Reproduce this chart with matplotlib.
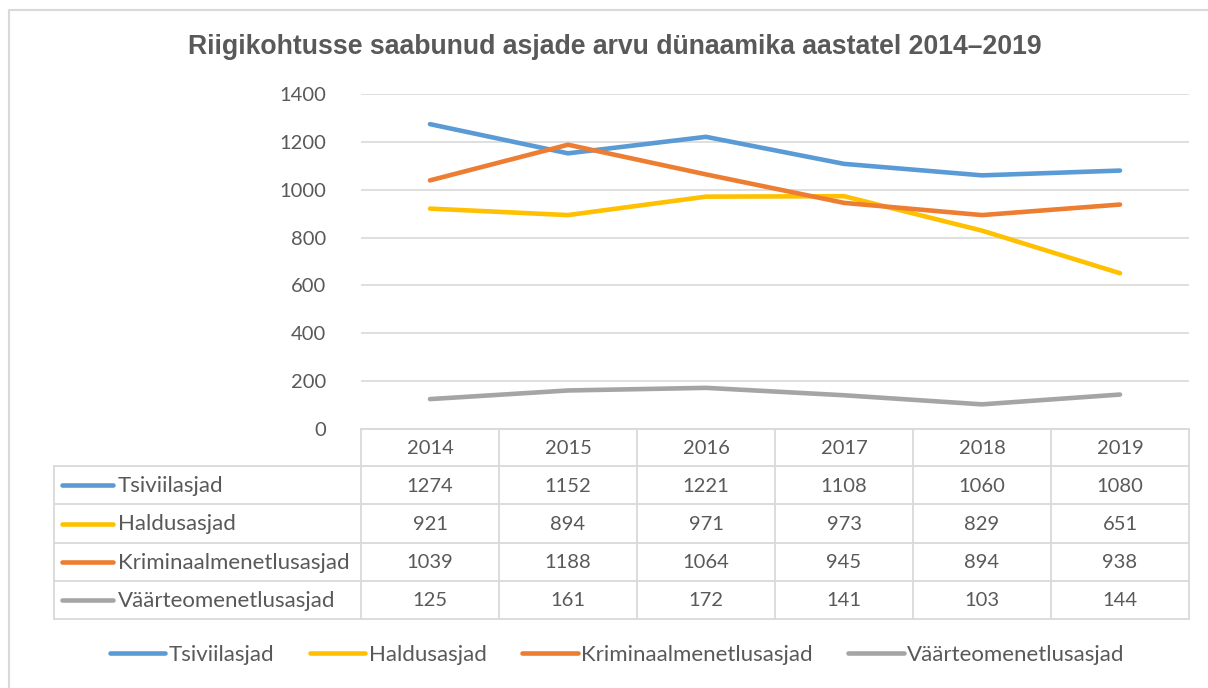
import matplotlib.pyplot as plt
from matplotlib.lines import Line2D

plt.rcParams['font.family'] = ['Lato', 'DejaVu Sans']

# andmed
years = ['2014', '2015', '2016', '2017', '2018', '2019']
series_names = ['Tsiviilasjad', 'Haldusasjad', 'Kriminaalmenetlusasjad', 'Väärteomenetlusasjad']
tsiviil = [1274, 1152, 1221, 1108, 1060, 1080]
haldus = [921, 894, 971, 973, 829, 651]
kriminaal = [1039, 1188, 1064, 945, 894, 938]
vaarteo = [125, 161, 172, 141, 103, 144]
values = [tsiviil, haldus, kriminaal, vaarteo]
colors = ['#5B9BD5', '#FFC000', '#ED7D31', '#A5A5A5']
yticks = [0, 200, 400, 600, 800, 1000, 1200, 1400]

W, H = 1208, 688
txt = '#595959'
grid = '#D9D9D9'
fs = 14.5      # numbrid
fs_lab = 16    # sarjade nimed

fig = plt.figure(figsize=(W / 100, H / 100), dpi=100)

# taust: kõik pikslites
bg = fig.add_axes([0, 0, 1, 1])
bg.set_xlim(0, W)
bg.set_ylim(H, 0)
bg.axis('off')
bg.plot([9, 9, W + 5], [H + 5, 10, 10], color=grid, lw=1.5)

# graafik
x0, x1, ytop, ybot = 361, 1189, 94, 429
ax = fig.add_axes([x0 / W, 1 - ybot / H, (x1 - x0) / W, (ybot - ytop) / H])
xs = list(range(len(years)))
for vals, c in zip(values, colors):
    ax.plot(xs, vals, color=c, lw=3.3, solid_capstyle='round', zorder=3)
ax.set_xlim(-0.5, len(years) - 0.5)
ax.set_ylim(0, 1400)
ax.set_yticks(yticks)
ax.set_xticks([])
ax.grid(axis='y', color=grid, lw=1.2)
ax.set_axisbelow(True)
for s in ax.spines.values():
    s.set_visible(False)
ax.tick_params(axis='y', length=0, pad=25, labelsize=fs, labelcolor=txt)
ax.patch.set_alpha(0)

# pealkiri
bg.text(615, 47, 'Riigikohtusse saabunud asjade arvu dünaamika aastatel 2014–2019',
        ha='center', va='center', fontsize=19.2, fontweight='bold',
        color=txt, family=['Liberation Sans', 'DejaVu Sans'])

# andmetabel
tl = 54
col_w = (x1 - x0) / len(years)
rows = [429, 466, 504, 543, 581, 619]
lw_t = 1.3
bg.plot([x0, x1], [rows[0], rows[0]], color=grid, lw=lw_t)
for r in rows[1:]:
    bg.plot([tl, x1], [r, r], color=grid, lw=lw_t)
bg.plot([tl, tl], [rows[1], rows[-1]], color=grid, lw=lw_t)
for i in range(len(years) + 1):
    xx = x0 + i * col_w
    bg.plot([xx, xx], [rows[0], rows[-1]], color=grid, lw=lw_t)
for i, y in enumerate(years):
    bg.text(x0 + (i + 0.5) * col_w, (rows[0] + rows[1]) / 2 + 1, y, ha='center', va='center',
            fontsize=fs, color=txt)
for j, (name, vals, c) in enumerate(zip(series_names, values, colors)):
    yc = (rows[j + 1] + rows[j + 2]) / 2 + 1
    bg.plot([62, 113], [yc - 1, yc - 1], color=c, lw=3.3, solid_capstyle='round')
    bg.text(118, yc, name, ha='left', va='center', fontsize=fs_lab, color=txt)
    for i, v in enumerate(vals):
        bg.text(x0 + (i + 0.5) * col_w, yc, str(v), ha='center', va='center',
                fontsize=fs, color=txt)

# legend
handles = [Line2D([], [], color=c, lw=3.3, solid_capstyle='round') for c in colors]
leg = fig.legend(handles, series_names, loc='center', bbox_to_anchor=(617 / W, 1 - 655 / H),
                 ncol=4, frameon=False, fontsize=fs_lab, handlelength=2.5, handletextpad=0.15,
                 columnspacing=1.6, labelcolor=txt)

plt.savefig('out.png', dpi=100)
